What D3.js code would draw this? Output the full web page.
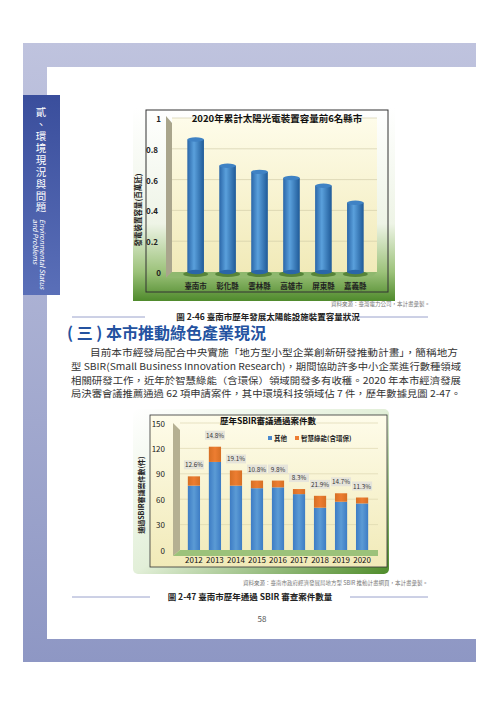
<!DOCTYPE html>
<html><head><meta charset="utf-8">
<script src="https://cdn.jsdelivr.net/npm/d3@7"></script>
<style>body{margin:0;background:#fff}svg{display:block}</style>
</head><body>
<script>
const cities = ["臺南市","彰化縣","雲林縣","高雄市","屏東縣","嘉義縣"];
const capacity = [0.86, 0.69, 0.65, 0.61, 0.56, 0.45];
const capTicks = [0, 0.2, 0.4, 0.6, 0.8, 1];
const years = ["2012","2013","2014","2015","2016","2017","2018","2019","2020"];
const other = [76, 104, 76, 73, 74, 66, 50, 57, 55];
const green = [11, 18, 18, 9, 8, 6, 14, 10, 7];
const pctLabels = ["12.6%","14.8%","19.1%","10.8%","9.8%","8.3%","21.9%","14.7%","11.3%"];
const sbirTicks = [0, 30, 60, 90, 120, 150];
const paragraph = [
 "目前本市經發局配合中央實施「地方型小型企業創新研發推動計畫」，簡稱地方",
 "型 SBIR(Small Business Innovation Research)，期間協助許多中小企業進行數種領域",
 "相關研發工作，近年於智慧綠能（含環保）領域開發多有收穫。2020 年本市經濟發展",
 "局決審會議推薦通過 62 項申請案件，其中環境科技領域佔 7 件，歷年數據見圖 2-47。"];

const F = "'Noto Sans CJK TC','Noto Sans',sans-serif";
const svg = d3.select("body").append("svg").attr("width",500).attr("height",707).style("font-family",F);
const defs = svg.append("defs");
function lg(id, stops, x2, y2){const g=defs.append("linearGradient").attr("id",id).attr("x1",0).attr("y1",0).attr("x2",x2).attr("y2",y2);
 stops.forEach(s=>g.append("stop").attr("offset",s[0]).attr("stop-color",s[1]));}
lg("frame",[[0,"#bfc3de"],[1,"#8e97c4"]],0,1);
lg("tab",[[0,"#3a4e9c"],[1,"#5a6fb8"]],0,1);
lg("cyl",[[0,"#2a66a8"],[0.4,"#5aa0dc"],[1,"#1f5a98"]],1,0);
lg("cream",[[0,"#fefcea"],[1,"#f1eab8"]],0,1);
lg("outer",[[0,"#ffffff"],[0.6,"#eef4e6"],[0.85,"#9cc27a"],[1,"#4f8a2c"]],0,1);
lg("outer2",[[0,"#ffffff"],[0.5,"#e2efd8"],[1,"#4f8c2a"]],1,1);
lg("blueBar",[[0,"#3d7cc4"],[0.5,"#5b9bd5"],[1,"#3d7cc4"]],1,0);
lg("orgBar",[[0,"#d66f24"],[0.5,"#ed7d31"],[1,"#d66f24"]],1,0);

// page frame
svg.append("rect").attr("x",23).attr("y",43).attr("width",453).attr("height",619).attr("fill","url(#frame)");
svg.append("rect").attr("x",47).attr("y",67).attr("width",429).attr("height",572).attr("fill","#fff");
svg.append("rect").attr("x",23).attr("y",95).attr("width",37).attr("height",200).attr("fill","url(#tab)");
svg.append("text").attr("x",41).attr("y",107).attr("fill","#fff").attr("font-size",10.5)
 .style("writing-mode","vertical-rl").attr("letter-spacing",1.4).text("貳、環境現況與問題");
[["Environmental Status",40],["and Problems",33]].forEach(([t,x])=>svg.append("text").attr("transform",`translate(${x},219) rotate(90)`)
 .attr("fill","#fff").attr("font-size",7).attr("font-style","italic").text(t));

// ---------- chart 1 ----------
const c1 = svg.append("g");
c1.append("rect").attr("x",133).attr("y",108).attr("width",262).attr("height",193).attr("fill","url(#outer)");
c1.append("rect").attr("x",146).attr("y",110).attr("width",242).attr("height",182).attr("fill","none").attr("stroke","#333").attr("stroke-width",1);
const y1 = d3.scaleLinear().domain([0,1]).range([272,118]);
const x1 = d3.scaleBand().domain(cities).range([172,379]).padding(0.48);
c1.append("rect").attr("x",172).attr("y",118).attr("width",205).attr("height",154).attr("fill","url(#cream)");
c1.append("path").attr("d","M166,116 L172,123 L172,272 L166,278 Z").attr("fill","#a9a58c");
c1.append("path").attr("d","M166,278 L172,272 L377,272 L371,278 Z").attr("fill","#8fb86e");
c1.selectAll(".g1").data(capTicks.slice(1)).join("line").attr("x1",172).attr("x2",377).attr("y1",d=>y1(d)).attr("y2",d=>y1(d)).attr("stroke","#ccc8a4").attr("stroke-width",0.6);
c1.selectAll(".t1").data(capTicks).join("text").attr("x",d=>d===0||d===1?161:158).attr("y",d=>y1(d)+4).attr("text-anchor","end")
 .attr("font-size",8).attr("font-weight","bold").attr("fill","#222").text(d=>d===0||d===1?d:d.toFixed(1));
const bw=x1.bandwidth();
cities.forEach((c,i)=>{const cx=x1(c)+bw/2, top=y1(capacity[i]);
 c1.append("ellipse").attr("cx",cx).attr("cy",274).attr("rx",bw*0.75).attr("ry",3).attr("fill","#3f6e22").attr("opacity",0.7);
 c1.append("rect").attr("x",x1(c)).attr("y",top).attr("width",bw).attr("height",272-top).attr("fill","url(#cyl)");
 c1.append("ellipse").attr("cx",cx).attr("cy",272).attr("rx",bw/2).attr("ry",2.2).attr("fill","#2a66a8");
 c1.append("ellipse").attr("cx",cx).attr("cy",top).attr("rx",bw/2).attr("ry",2.2).attr("fill","#3f82c4");
});
c1.selectAll(".cx").data(cities).join("text").attr("x",d=>x1(d)+bw/2).attr("y",289).attr("text-anchor","middle")
 .attr("font-size",7.5).attr("font-weight","bold").attr("fill","#222").text(d=>d);
c1.append("text").attr("x",277).attr("y",122).attr("text-anchor","middle").attr("font-size",9.5).attr("font-weight","bold").attr("fill","#111").text("2020年累計太陽光電裝置容量前6名縣市");
c1.append("text").attr("transform","translate(141,210) rotate(-90)").attr("text-anchor","middle").attr("font-size",7.5).attr("font-weight","bold").attr("fill","#222").text("發電裝置容量(百萬瓩)");

svg.append("text").attr("x",430).attr("y",306).attr("text-anchor","end").attr("font-size",5.5).attr("fill","#777").text("資料來源：臺灣電力公司，本計畫彙製。");
function caption(t,y,cx,l1,l2){svg.append("line").attr("x1",l1[0]).attr("x2",l1[1]).attr("y1",y-3).attr("y2",y-3).attr("stroke","#9aa2cc");
 svg.append("line").attr("x1",l2[0]).attr("x2",l2[1]).attr("y1",y-3).attr("y2",y-3).attr("stroke","#9aa2cc");
 svg.append("text").attr("x",cx).attr("y",y).attr("text-anchor","middle").attr("font-size",8.5).attr("font-weight","bold").attr("fill","#222").text(t);}
caption("圖 2-46 臺南市歷年發展太陽能設施裝置容量狀況",320,268,[72,145],[352,428]);
svg.append("text").attr("x",67).attr("y",339).attr("font-size",16).attr("font-weight","bold").attr("fill","#2452a0").text("( 三 ) 本市推動綠色產業現況");
paragraph.forEach((t,i)=>svg.append("text").attr("x",i===0?90:71).attr("y",356+i*13.8).attr("font-size",i===0?9.6:9.3).attr("fill","#333")
 .attr("textLength",i===0?368:390).attr("lengthAdjust","spacingAndGlyphs").text(t));

// ---------- chart 2 ----------
const c2 = svg.append("g");
c2.append("rect").attr("x",133).attr("y",409).attr("width",256).attr("height",165).attr("rx",5).attr("fill","url(#outer2)");
c2.append("rect").attr("x",150).attr("y",415).attr("width",237).attr("height",152).attr("fill","url(#cream)").attr("stroke","#333").attr("stroke-width",0.8);
const y2=d3.scaleLinear().domain([0,150]).range([550,423]);
const x2=d3.scaleBand().domain(years).range([179,377]).padding(0.42);
c2.append("path").attr("d","M173,423 L180,430 L180,550 L173,556 Z").attr("fill","#b5b092");
c2.append("path").attr("d","M173,556 L180,550 L378,550 L378,556 Z").attr("fill","#9cc27a");
c2.selectAll(".g2").data(sbirTicks.slice(1)).join("line").attr("x1",180).attr("x2",378).attr("y1",d=>y2(d)).attr("y2",d=>y2(d)).attr("stroke","#d8d2aa").attr("stroke-width",0.6);
c2.selectAll(".t2").data(sbirTicks).join("text").attr("x",165).attr("y",d=>y2(d)+3.5).attr("text-anchor","end").attr("font-size",8).attr("fill","#222").text(d=>d);
const bw2=x2.bandwidth();
c2.selectAll(".bb").data(years).join("rect").attr("x",d=>x2(d)).attr("width",bw2).attr("y",(d,i)=>y2(other[i])).attr("height",(d,i)=>550-y2(other[i])).attr("fill","url(#blueBar)");
c2.selectAll(".ob").data(years).join("rect").attr("x",d=>x2(d)).attr("width",bw2).attr("y",(d,i)=>y2(other[i]+green[i])).attr("height",(d,i)=>y2(other[i])-y2(other[i]+green[i])).attr("fill","url(#orgBar)");
c2.selectAll(".pl").data(years).join("g").each(function(d,i){const g=d3.select(this),cx=x2(d)+bw2/2,yy=y2(other[i]+green[i])-10;
 g.append("rect").attr("x",cx-10).attr("y",yy-6).attr("width",20).attr("height",9).attr("fill","#e6e4da");
 g.append("text").attr("x",cx).attr("y",yy+1).attr("text-anchor","middle").attr("font-size",6.3).attr("fill","#333").text(pctLabels[i]);});
c2.selectAll(".xl").data(years).join("text").attr("x",d=>x2(d)+bw2/2).attr("y",563).attr("text-anchor","middle").attr("font-size",8).attr("fill","#111").text(d=>d);
c2.append("text").attr("x",268).attr("y",424).attr("text-anchor","middle").attr("font-size",8.5).attr("font-weight","bold").attr("fill","#111").text("歷年SBIR審議通過案件數");
c2.append("rect").attr("x",268).attr("y",436).attr("width",4).attr("height",4).attr("fill","#4a8ad0");
c2.append("text").attr("x",274).attr("y",440.5).attr("font-size",6.5).attr("font-weight","bold").attr("fill","#222").text("其他");
c2.append("rect").attr("x",295).attr("y",436).attr("width",4).attr("height",4).attr("fill","#ed7d31");
c2.append("text").attr("x",301).attr("y",440.5).attr("font-size",6.5).attr("font-weight","bold").attr("fill","#222").text("智慧綠能(含環保)");
c2.append("text").attr("transform","translate(144,495) rotate(-90)").attr("text-anchor","middle").attr("font-size",7).attr("font-weight","bold").attr("fill","#222").text("通過SBIR審議案件數(件)");

svg.append("text").attr("x",428).attr("y",585).attr("text-anchor","end").attr("font-size",5.5).attr("fill","#777").text("資料來源：臺南市政府經濟發展局地方型 SBIR 推動計畫網頁，本計畫彙製。");
caption("圖 2-47 臺南市歷年通過 SBIR 審查案件數量",600,250,[72,150],[350,428]);
svg.append("text").attr("x",262).attr("y",622).attr("text-anchor","middle").attr("font-size",8).attr("fill","#555").text("58");
</script>
</body></html>
